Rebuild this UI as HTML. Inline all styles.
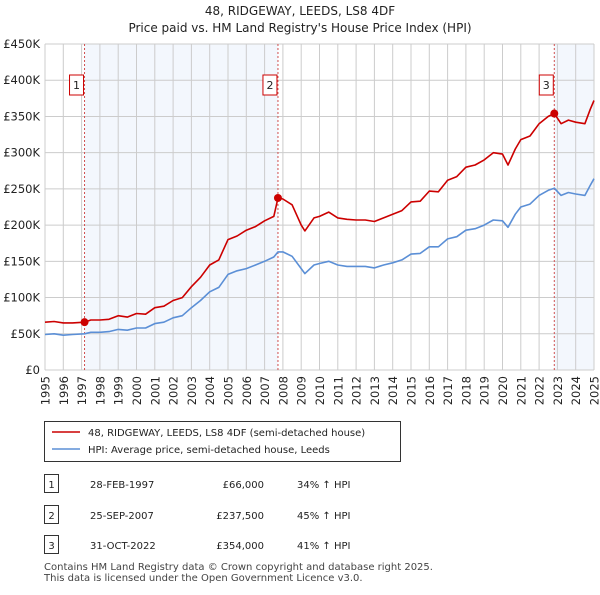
<!DOCTYPE html>
<html><head><meta charset="utf-8"><style>
body{margin:0;width:600px;height:590px;background:#fff;font-family:"Liberation Sans","DejaVu Sans",sans-serif;overflow:hidden}
svg text{font-family:"DejaVu Sans","Liberation Sans",sans-serif}
</style></head><body>
<svg id="c" width="600" height="590"></svg>
<script>
const years=[1995,1995.5,1996,1996.5,1997.16,1997.5,1998,1998.5,1999,1999.5,2000,2000.5,2001,2001.5,2002,2002.5,2003,2003.5,2004,2004.5,2005,2005.5,2006,2006.5,2007,2007.5,2007.73,2008,2008.5,2009,2009.2,2009.7,2010,2010.5,2011,2011.5,2012,2012.5,2013,2013.5,2014,2014.5,2015,2015.5,2016,2016.5,2017,2017.5,2018,2018.5,2019,2019.5,2020,2020.3,2020.7,2021,2021.5,2022,2022.5,2022.83,2023.2,2023.6,2024,2024.5,2024.8,2025];
const priceSeries=[66,67,65,65,66,69,69,70,75,73,78,77,86,88,96,100,115,128,145,152,180,185,193,198,206,212,237.5,236,228,200,192,210,212,218,210,208,207,207,205,210,215,220,232,233,247,246,262,267,280,283,290,300,298,283,305,318,323,340,350,354,340,345,342,340,360,372];
const hpiSeries=[49,50,48,49,50,52,52,53,56,55,58,58,64,66,72,75,86,96,108,114,132,137,140,145,150,156,163,163,157,140,133,145,147,150,145,143,143,143,141,145,148,152,160,161,170,170,181,184,193,195,200,207,206,197,215,225,229,241,248,251,241,245,243,241,255,264];
const saleYears=[1997.16,2007.73,2022.83];
const salePrices=[66,237.5,354];
const saleLabels=["1","2","3"];
const yTicks=[0,50,100,150,200,250,300,350,400,450];
const yTickLabels=["£0","£50K","£100K","£150K","£200K","£250K","£300K","£350K","£400K","£450K"];
const xTicks=[1995,1996,1997,1998,1999,2000,2001,2002,2003,2004,2005,2006,2007,2008,2009,2010,2011,2012,2013,2014,2015,2016,2017,2018,2019,2020,2021,2022,2023,2024,2025];

const L=45,R=594,T=44,B=370;
const xs=y=>L+(y-1995)/30*(R-L);
const ys=v=>B-v/450*(B-T);
const svg=document.getElementById('c');
const NS='http://www.w3.org/2000/svg';
function mk(tag,attrs,parent){const e=document.createElementNS(NS,tag);for(const k in attrs)e.setAttribute(k,attrs[k]);(parent||svg).appendChild(e);return e;}

let t=mk('text',{x:300,y:15,'text-anchor':'middle','font-size':12,fill:'#222'});t.textContent='48, RIDGEWAY, LEEDS, LS8 4DF';


t=mk('text',{x:300,y:32,'text-anchor':'middle','font-size':12,fill:'#222'});t.textContent="Price paid vs. HM Land Registry's House Price Index (HPI)";



let s1=mk('rect',{x:xs(saleYears[0]),y:T,width:xs(saleYears[1])-xs(saleYears[0]),height:B-T,fill:'#eef3fc',opacity:0.7});


let s2=mk('rect',{x:xs(saleYears[2]),y:T,width:R-xs(saleYears[2]),height:B-T,fill:'#eef3fc',opacity:0.7});



xTicks.forEach(y=>{const l=mk('line',{x1:xs(y),x2:xs(y),y1:T,y2:B,stroke:'#ccc','stroke-width':1});


const tx=mk('text',{x:0,y:0,'text-anchor':'end','font-size':11.5,fill:'#222',transform:'translate('+(xs(y)+4.5)+',376) rotate(-90)'});tx.textContent=y;

});
yTicks.forEach((v,i)=>{const l=mk('line',{x1:L,x2:R,y1:ys(v),y2:ys(v),stroke:'#ccc','stroke-width':1});


const tx=mk('text',{x:40,y:ys(v)+4,'text-anchor':'end','font-size':11.5,fill:'#222'});tx.textContent=yTickLabels[i];

});

saleYears.forEach((y,i)=>{const l=mk('line',{x1:xs(y),x2:xs(y),y1:T,y2:B,stroke:'#d05050','stroke-width':1,'stroke-dasharray':'2,2'});


const bx=mk('rect',{x:xs(y)-15,y:75,width:14,height:20,fill:'#fff',stroke:'#c00','stroke-width':1});


const tx=mk('text',{x:xs(y)-8,y:89,'text-anchor':'middle','font-size':11,fill:'#222'});tx.textContent=saleLabels[i];

});

function line(arr,col,name){const d=arr.map((v,i)=>(i?'L':'M')+xs(years[i]).toFixed(1)+','+ys(v).toFixed(1)).join('');
const p=mk('path',{d:d,fill:'none',stroke:col,'stroke-width':1.6,'stroke-linejoin':'round'});

}
line(hpiSeries,'#5b8fd6','hpi-line');
line(priceSeries,'#cc0000','price-line');
saleYears.forEach((y,i)=>{const c=mk('circle',{cx:xs(y),cy:ys(salePrices[i]),r:4,fill:'#cc0000'});

});

const lg=mk('rect',{x:44.5,y:421.5,width:356,height:40,fill:'#fff',stroke:'#333','stroke-width':1});


[['#cc0000','48, RIDGEWAY, LEEDS, LS8 4DF (semi-detached house)',436],['#5b8fd6','HPI: Average price, semi-detached house, Leeds',453]].forEach(([c,txt,y])=>{
const l=mk('line',{x1:52,x2:80,y1:y-4,y2:y-4,stroke:c,'stroke-width':1.6});


const tx=mk('text',{x:88,y:y,'font-size':10,fill:'#222'});tx.textContent=txt;

});

const rows=[['1','28-FEB-1997','£66,000','34% ↑ HPI',488],['2','25-SEP-2007','£237,500','45% ↑ HPI',519],['3','31-OCT-2022','£354,000','41% ↑ HPI',549]];
rows.forEach(r=>{const b=mk('rect',{x:44.5,y:r[4]-13.5,width:14,height:18,fill:'#fff',stroke:'#333'});


const n=mk('text',{x:51.5,y:r[4],'text-anchor':'middle','font-size':10,fill:'#222'});n.textContent=r[0];


const d=mk('text',{x:90,y:r[4],'font-size':10,fill:'#222'});d.textContent=r[1];


const p=mk('text',{x:264,y:r[4],'text-anchor':'end','font-size':10,fill:'#222'});p.textContent=r[2];


const h=mk('text',{x:297,y:r[4],'font-size':10,fill:'#222'});h.textContent=r[3];

});

t=mk('text',{x:44,y:570,'font-size':10,fill:'#444'});t.textContent='Contains HM Land Registry data © Crown copyright and database right 2025.';


t=mk('text',{x:44,y:581,'font-size':10,fill:'#444'});t.textContent='This data is licensed under the Open Government Licence v3.0.';


</script>
</body></html>
